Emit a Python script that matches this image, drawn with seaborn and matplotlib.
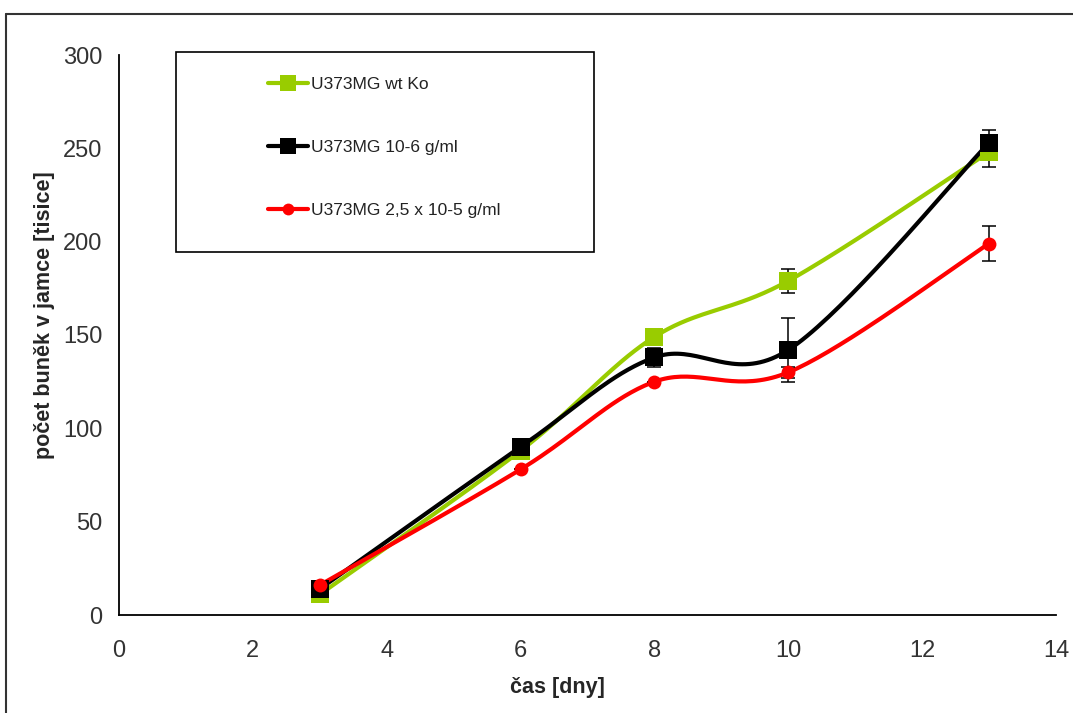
import numpy as np
import pandas as pd
import matplotlib
matplotlib.use("Agg")
import matplotlib.pyplot as plt
from matplotlib.lines import Line2D
from matplotlib.patches import Rectangle
import seaborn as sns

# ---- data ----
days = [3, 6, 8, 10, 13]
series_names = ["U373MG wt Ko", "U373MG 10-6 g/ml", "U373MG 2,5 x 10-5 g/ml"]
wt_ko = [11, 88, 149, 179, 248]
conc_1e6 = [14, 90, 138, 142, 253]
conc_25e5 = [16, 78, 125, 130, 199]
err_wt_ko = [0, 0, 0, 6.5, 8]
err_1e6 = [0, 0, 5, 17, 7]
err_25e5 = [0, 0, 0, 3, 9.5]

colors = ["#99CC00", "#000000", "#FF0000"]
markers = ["s", "s", "o"]
msizes = [13, 13, 10]

sns.set_theme(style="white")
plt.rcParams['font.family'] = ['Liberation Sans', 'DejaVu Sans']


def smooth(xs, ys, n=40, t=1 / 6):
    """Excel-like smoothed line through points (Bezier with Catmull-Rom tangents)."""
    P = np.column_stack([xs, ys]).astype(float)
    out = []
    m = len(P)
    for i in range(m - 1):
        p0 = P[i - 1] if i > 0 else P[i]
        p1 = P[i]
        p2 = P[i + 1]
        p3 = P[i + 2] if i + 2 < m else P[i + 1]
        c1 = p1 + (p2 - p0) * t
        c2 = p2 - (p3 - p1) * t
        s = np.linspace(0, 1, n)[:, None]
        seg = ((1 - s) ** 3) * p1 + 3 * ((1 - s) ** 2) * s * c1 + 3 * (1 - s) * s ** 2 * c2 + s ** 3 * p2
        out.append(seg if i == 0 else seg[1:])
    return np.vstack(out)


fig = plt.figure(figsize=(10.73, 7.13), dpi=100)
ax = fig.add_axes([119 / 1073, 1 - 615 / 713, (1056 - 119) / 1073, (615 - 55) / 713])

all_vals = [wt_ko, conc_1e6, conc_25e5]
all_errs = [err_wt_ko, err_1e6, err_25e5]

frames = []
for name, vals in zip(series_names, all_vals):
    sm = smooth(days, vals)
    frames.append(pd.DataFrame({"x": sm[:, 0], "y": sm[:, 1], "series": name}))
smooth_df = pd.concat(frames, ignore_index=True)

pal = dict(zip(series_names, colors))
sns.lineplot(data=smooth_df, x="x", y="y", hue="series", units="series", estimator=None,
             sort=False, palette=pal, linewidth=3, legend=False, ax=ax)

for name, vals, errs, c, mk, ms in zip(series_names, all_vals, all_errs, colors, markers, msizes):
    ax.errorbar(days, vals, yerr=errs, fmt="none", ecolor="black", elinewidth=1.1,
                capsize=5, capthick=1.1, zorder=4)
    ax.plot(days, vals, linestyle="none", marker=mk, markersize=ms, color=c,
            markeredgewidth=0, zorder=5, clip_on=False)

ax.set_xlim(0, 14)
ax.set_ylim(0, 300)
ax.set_xticks(np.arange(0, 15, 2))
ax.set_yticks(np.arange(0, 301, 50))
ax.tick_params(axis="both", direction="out", length=7, width=1.2, colors="black",
               labelsize=17, labelcolor="#333333", pad=5)
ax.tick_params(axis="x", pad=11)
for side in ["top", "right"]:
    ax.spines[side].set_visible(False)
for side in ["left", "bottom"]:
    ax.spines[side].set_color("black")
    ax.spines[side].set_linewidth(1.3)
ax.grid(False)

ax.set_xlabel("čas [dny]", fontsize=15.5, fontweight="bold")
ax.set_ylabel("počet buněk v jamce [tisice]", fontsize=15.5, fontweight="bold")
ax.xaxis.set_label_coords((557 - 119) / 937, (615 - 688) / 560)
ax.yaxis.set_label_coords((45 - 119) / 937, (615 - 315) / 560)
ax.xaxis.label.set_va("center")
ax.yaxis.label.set_va("center")

# legend box
fig.patches.append(Rectangle((176 / 1073, 1 - 252 / 713), (594 - 176) / 1073, 200 / 713,
                             transform=fig.transFigure, fill=False, edgecolor="black",
                             linewidth=1.2, zorder=10))
handles = [Line2D([0], [0], color=c, marker=mk, markersize=ms * 0.85, linewidth=3,
                  markeredgewidth=0) for c, mk, ms in zip(colors, markers, msizes)]
leg = fig.legend(handles, series_names, loc="upper left",
                 bbox_to_anchor=(268 / 1073, 1 - 77 / 713), frameon=False,
                 fontsize=12.5, labelspacing=2.75, handlelength=2.3, handletextpad=0.2,
                 borderpad=0, borderaxespad=0)
for t in leg.get_texts():
    t.set_color("#222222")

# outer frame
fig.add_artist(Line2D([6 / 1073, 6 / 1073], [0, 1 - 14 / 713], transform=fig.transFigure,
                      color="#333333", linewidth=1.5))
fig.add_artist(Line2D([6 / 1073, 1], [1 - 14 / 713, 1 - 14 / 713], transform=fig.transFigure,
                      color="#333333", linewidth=1.5))

fig.savefig("out.png", dpi=100, facecolor="white")
